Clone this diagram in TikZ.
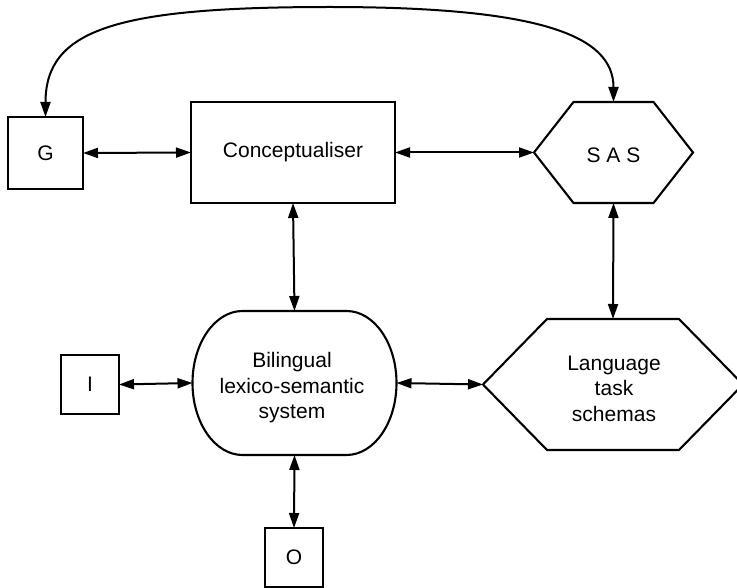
\documentclass[tikz,border=0pt]{standalone}
\usepackage{fontspec}
\setmainfont{Liberation Sans}
\usetikzlibrary{arrows.meta}
\begin{document}
\begin{tikzpicture}[x=1pt,y=-1pt,
  every node/.style={font=\fontsize{21}{25.5}\selectfont, inner sep=0pt, outer sep=0pt},
  box/.style={draw, rectangle, line width=2.1pt},
  slot/.style={rectangle},
  words/.style={align=center},
  frame/.style={line width=2.1pt, line join=miter},
  arr/.style={line width=2pt,
    {Triangle[length=15pt,width=10pt]}-{Triangle[length=15pt,width=10pt]}},
]
\useasboundingbox (0,0) rectangle (737,588);

% plain boxes
\node[box, minimum width=75pt, minimum height=72pt]  (g)   at (45.5,153)  {\raisebox{-2pt}{G}};
\node[box, minimum width=204pt, minimum height=101pt] (con) at (293,152.5) {\raisebox{-2pt}{Conceptualiser}};
\node[box, minimum width=58pt, minimum height=59pt]  (i)   at (90,384.5)  {I};
\node[box, minimum width=58pt, minimum height=59pt]  (o)   at (294,557.5) {\raisebox{-2pt}{O}};

% shaped nodes: geometry holders, outlines and texts drawn below
\node[slot, minimum width=159pt, minimum height=101pt] (sas) at (613.5,152.5) {};
\node[slot, minimum width=204pt, minimum height=144pt] (bil) at (294.5,383) {};
\node[slot, minimum width=260pt, minimum height=131pt] (lts) at (613,384.5) {};

\node[words] (sastext) at (613.5,155) {S A S};
\node[words] (biltext) at (292,388) {Bilingual\\lexico-semantic\\system};
\node[words] (ltstext) at (614,388.5) {Language\\task\\schemas};

% hexagon outlines
\draw[frame, shift={(sas.center)}]
  (-79.5,0) -- (-40,-50.5) -- (40,-50.5) -- (79.5,0) -- (40,50.5) -- (-40,50.5) -- cycle;
\draw[frame, shift={(lts.center)}]
  (-130,0) -- (-66,-65.5) -- (66,-65.5) -- (130,0) -- (66,65.5) -- (-66,65.5) -- cycle;

% barrel outline with flat top and bottom
\draw[frame, shift={(bil.center)}]
  (-52,-72) -- (52,-72)
  .. controls (79.6,-72) and (102,-39.8) .. (102,0)
  .. controls (102,39.8) and (79.6,72) .. (52,72)
  -- (-52,72)
  .. controls (-79.6,72) and (-102,39.8) .. (-102,0)
  .. controls (-102,-39.8) and (-79.6,-72) .. (-52,-72) -- cycle;

% connectors
\draw[arr] (g.east) -- (con.west);
\draw[arr] (con.east) -- (sas.west);
\draw[arr] (con.south) -- (bil.north);
\draw[arr] (sas.south) -- (lts.north);
\draw[arr] (i.east) -- (bil.west);
\draw[arr] (bil.east) -- (lts.west);
\draw[arr] (bil.south) -- (o.north);

\coordinate (crest) at (330,7);
\draw[arr] (g.north) .. controls (45.5,29) and (117,7) .. (crest)
  .. controls (542,7) and (613.5,36) .. (sas.north);
\end{tikzpicture}
\end{document}
